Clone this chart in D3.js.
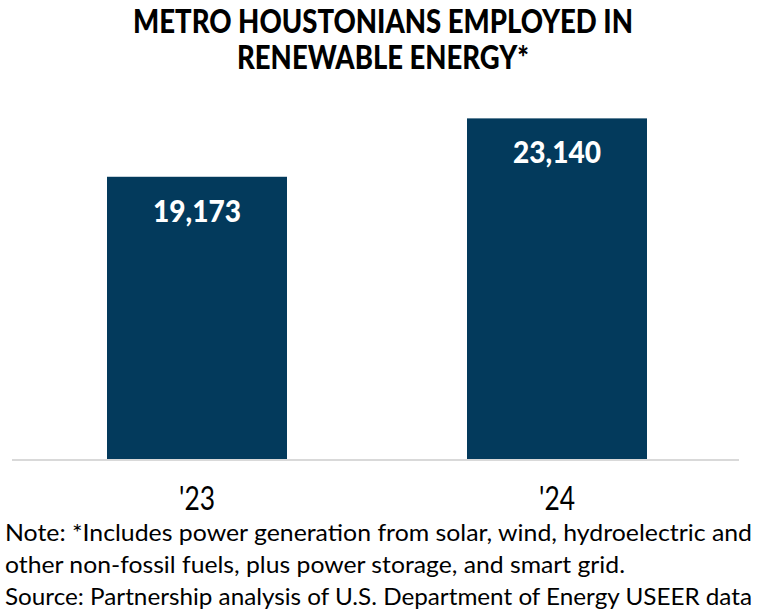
<!DOCTYPE html>
<html><head><meta charset="utf-8">
<script src="https://cdn.jsdelivr.net/npm/d3@7"></script>
<style>body{margin:0;background:#fff}svg{display:block}</style>
</head><body>
<svg id="c" width="760" height="616"></svg>
<script>
const categories = ["'23", "'24"];
const values = [19173, 23140];
const titleLines = ["METRO HOUSTONIANS EMPLOYED IN", "RENEWABLE ENERGY*"];
const noteLines = [
  "Note: *Includes power generation from solar, wind, hydroelectric and",
  "other non-fossil fuels, plus power storage, and smart grid.",
  "Source: Partnership analysis of U.S. Department of Energy USEER data"
];

const svg = d3.select("#c");
const font = "Lato, 'Open Sans', sans-serif";
const x = d3.scaleBand().domain(categories).range([17, 737]).paddingInner(0.5).paddingOuter(0.25);
const y = d3.scaleLinear().domain([0, 25000]).range([459, 91]);
const fmt = d3.format(",");

// title
const tW = [500, 292];
svg.selectAll("text.title").data(titleLines).join("text")
  .attr("class","title")
  .attr("x", 383).attr("y", (d,i)=>33 + i*36)
  .attr("text-anchor","middle")
  .attr("font-family", font).attr("font-weight", "900").attr("font-size", 32)
  .attr("textLength", (d,i)=>tW[i]).attr("lengthAdjust","spacingAndGlyphs")
  .attr("fill","#000").text(d=>d);

// bars
svg.selectAll("rect.bar").data(values).join("rect")
  .attr("class","bar")
  .attr("x",(d,i)=>x(categories[i])).attr("width", x.bandwidth())
  .attr("y", d=>y(d)).attr("height", d=>y(0)-y(d))
  .attr("fill","#033a5c");

// baseline
svg.append("line").attr("x1",12).attr("x2",739).attr("y1",y(0)+1).attr("y2",y(0)+1)
  .attr("stroke","#d9d9d9").attr("stroke-width",2);

// value labels
svg.selectAll("text.val").data(values).join("text")
  .attr("class","val")
  .attr("x",(d,i)=>x(categories[i]) + x.bandwidth()/2)
  .attr("y", d=>y(d)+45)
  .attr("text-anchor","middle")
  .attr("font-family", font).attr("font-weight","900").attr("font-size", 31)
  .attr("textLength", 88).attr("lengthAdjust","spacingAndGlyphs")
  .attr("fill","#fff").text(d=>fmt(d));

// category labels
svg.selectAll("text.cat").data(categories).join("text")
  .attr("class","cat")
  .attr("x", d=>x(d) + x.bandwidth()/2)
  .attr("y", 510)
  .attr("text-anchor","middle")
  .attr("font-family", font).attr("font-size", 32)
  .attr("textLength", 36).attr("lengthAdjust","spacingAndGlyphs")
  .attr("fill","#000").text(d=>d);

// notes
const nW = [747, 620, 747];
svg.selectAll("text.note").data(noteLines).join("text")
  .attr("class","note")
  .attr("x", 5).attr("y", (d,i)=>541 + i*32)
  .attr("font-family", font).attr("font-size", 24)
  .attr("textLength", (d,i)=>nW[i]).attr("lengthAdjust","spacingAndGlyphs")
  .attr("fill","#000").text(d=>d);
</script>
</body></html>
